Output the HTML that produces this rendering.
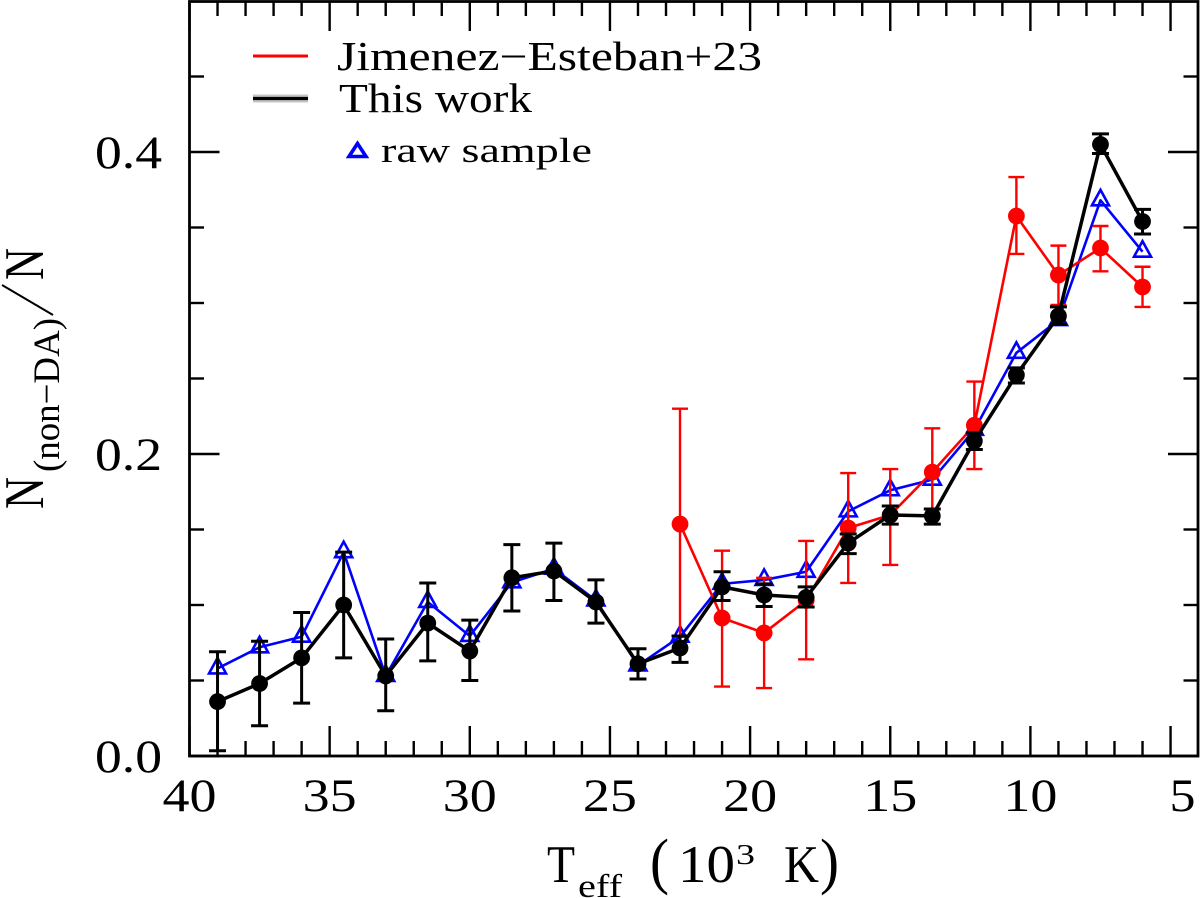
<!DOCTYPE html>
<html lang="en">
<head>
<meta charset="utf-8">
<title>Non-DA fraction versus effective temperature</title>
<style>
html,body{margin:0;padding:0;background:#fff;}
body{width:1200px;height:898px;overflow:hidden;}
svg{display:block;}
text{font-family:"Liberation Serif",serif;fill:#000;}
</style>
</head>
<body>
<svg id="chart" width="1200" height="898" viewBox="0 0 1200 898" xmlns="http://www.w3.org/2000/svg">
  <g id="ticks"></g>
  <g id="tick-labels"></g>
  <rect x="189.5" y="1.5" width="1008.5" height="754.5" fill="none" stroke="#000" stroke-width="2.8"/>
  <g id="series-blue"></g>
  <g id="series-red"></g>
  <g id="series-black"></g>

  <g>
    <line x1="253" x2="308" y1="56" y2="56" stroke="#f00" stroke-width="3"/>
    <text x="337" y="70" font-size="41" textLength="425" lengthAdjust="spacingAndGlyphs">Jimenez−Esteban+23</text>
    <line x1="253" x2="308" y1="98.5" y2="98.5" stroke="#c4c4c4" stroke-width="8"/>
    <line x1="253" x2="308" y1="98.5" y2="98.5" stroke="#000" stroke-width="3.2"/>
    <text x="339" y="112" font-size="41" textLength="193" lengthAdjust="spacingAndGlyphs">This work</text>
    <polygon points="357.5,143.5 349,156.5 366,156.5" fill="none" stroke="#00f" stroke-width="3.6"/>
    <text x="381" y="162" font-size="35" textLength="211" lengthAdjust="spacingAndGlyphs">raw sample</text>
  </g>

  <g>
    <text x="547" y="882" font-size="53" textLength="28" lengthAdjust="spacingAndGlyphs">T</text>
    <text x="578" y="897" font-size="33" textLength="44" lengthAdjust="spacingAndGlyphs">eff</text>
    <text x="650" y="882" font-size="62" textLength="19" lengthAdjust="spacingAndGlyphs">(</text>
    <text x="678" y="882" font-size="53" textLength="57" lengthAdjust="spacingAndGlyphs">10</text>
    <text x="736" y="864" font-size="29" textLength="19" lengthAdjust="spacingAndGlyphs">3</text>
    <text x="784" y="882" font-size="53" textLength="35" lengthAdjust="spacingAndGlyphs">K</text>
    <text x="820" y="882" font-size="62" textLength="19" lengthAdjust="spacingAndGlyphs">)</text>
  </g>

  <g>
    <text transform="translate(43,509) rotate(-90)" font-size="56" textLength="32" lengthAdjust="spacingAndGlyphs">N</text>
    <text transform="translate(59,472) rotate(-90)" font-size="37" textLength="154" lengthAdjust="spacingAndGlyphs">(non−DA)</text>
    <line x1="2" y1="285" x2="53" y2="315" stroke="#000" stroke-width="2"/>
    <text transform="translate(43,280) rotate(-90)" font-size="56" textLength="32" lengthAdjust="spacingAndGlyphs">N</text>
  </g>
</svg>

<script>
const temps = [39,37.5,36,34.5,33,31.5,30,28.5,27,25.5,24,22.5,21,19.5,18,16.5,15,13.5,12,10.5,9,7.5,6];
const blackValues = [0.036,0.048,0.065,0.100,0.053,0.088,0.0695,0.118,0.1225,0.102,0.061,0.0715,0.112,0.1066,0.105,0.141,0.1596,0.159,0.2086,0.2523,0.2914,0.405,0.354];
const blackUpper = [0.069,0.076,0.095,0.135,0.0775,0.1146,0.090,0.140,0.141,0.1166,0.071,0.0795,0.122,0.114,0.112,0.147,0.1656,0.1636,0.214,0.257,0.2974,0.412,0.362];
const blackLower = [0.0035,0.020,0.035,0.065,0.030,0.063,0.050,0.096,0.103,0.088,0.051,0.062,0.103,0.099,0.0987,0.134,0.1536,0.1536,0.203,0.247,0.286,0.399,0.3457];
const blueValues = [0.058,0.072,0.079,0.135,0.053,0.102,0.0795,0.115,0.124,0.103,0.060,0.079,0.114,0.1166,0.122,0.162,0.176,0.183,0.216,0.267,0.2887,0.368,0.334];
const redTemps = [22.5,21,19.5,18,16.5,15,13.5,12,10.5,9,7.5,6];
const redValues = [0.1536,0.0914,0.0815,0.103,0.151,0.1596,0.188,0.219,0.3576,0.3185,0.3364,0.3106];
const redUpper = [0.230,0.136,0.118,0.1424,0.1874,0.190,0.217,0.248,0.3834,0.338,0.351,0.324];
const redLower = [0.079,0.046,0.045,0.064,0.1146,0.1265,0.159,0.190,0.3325,0.2987,0.321,0.2974];
const xMajorTicks = [40,35,30,25,20,15,10,5];
const xMinorTicks = [39,38,37,36,34,33,32,31,29,28,27,26,24,23,22,21,19,18,17,16,14,13,12,11,9,8,7,6];
const yMajorTicks = [0,0.2,0.4];
const yMinorTicks = [0.05,0.1,0.15,0.25,0.3,0.35,0.45];
const xTickLabels = ['40','35','30','25','20','15','10','5'];
const yTickLabels = ['0.0','0.2','0.4'];

const SVG_NS = 'http://www.w3.org/2000/svg';
function xScale(t){ return 189.5 + (40 - t) * 28.03; }
function yScale(v){ return 756 - v * 1510; }

function svgEl(tag, parent, name){
  const el = document.createElementNS(SVG_NS, tag);
  
  
  parent.appendChild(el);
  return el;
}
function drawLine(parent, name, x1, y1, x2, y2, color, width){
  const el = svgEl('line', parent, name);
  el.setAttribute('x1', x1);
  el.setAttribute('y1', y1);
  el.setAttribute('x2', x2);
  el.setAttribute('y2', y2);
  el.setAttribute('stroke', color);
  el.setAttribute('stroke-width', width);
  return el;
}
function drawPolyline(parent, name, xs, ys, color, width){
  const el = svgEl('polyline', parent, name);
  el.setAttribute('points', xs.map(function(t, i){ return xScale(t) + ',' + yScale(ys[i]); }).join(' '));
  el.setAttribute('fill', 'none');
  el.setAttribute('stroke', color);
  el.setAttribute('stroke-width', width);
  el.setAttribute('stroke-linejoin', 'round');
  return el;
}
function drawErrors(parent, prefix, xs, hi, lo, color, width, capHalf){
  xs.forEach(function(t, i){
    const x = xScale(t);
    drawLine(parent, prefix + '-error-bar', x, yScale(hi[i]), x, yScale(lo[i]), color, width);
    drawLine(parent, prefix + '-error-cap-upper', x - capHalf, yScale(hi[i]), x + capHalf, yScale(hi[i]), color, width);
    drawLine(parent, prefix + '-error-cap-lower', x - capHalf, yScale(lo[i]), x + capHalf, yScale(lo[i]), color, width);
  });
}
function drawDots(parent, prefix, xs, ys, color){
  xs.forEach(function(t, i){
    const el = svgEl('circle', parent, prefix + '-point');
    el.setAttribute('cx', xScale(t));
    el.setAttribute('cy', yScale(ys[i]));
    el.setAttribute('r', 8.4);
    el.setAttribute('fill', color);
  });
}
function drawTriangles(parent, prefix, xs, ys, color){
  xs.forEach(function(t, i){
    const x = xScale(t);
    const y = yScale(ys[i]);
    const el = svgEl('polygon', parent, prefix + '-point');
    el.setAttribute('points', x + ',' + (y - 10.5) + ' ' + (x - 8.5) + ',' + (y + 5) + ' ' + (x + 8.5) + ',' + (y + 5));
    el.setAttribute('fill', 'none');
    el.setAttribute('stroke', color);
    el.setAttribute('stroke-width', 2.6);
  });
}
function drawLabel(parent, name, text, x, y, size, width){
  const el = svgEl('text', parent, name);
  el.setAttribute('x', x);
  el.setAttribute('y', y);
  el.setAttribute('font-size', size);
  el.setAttribute('textLength', width);
  el.setAttribute('lengthAdjust', 'spacingAndGlyphs');
  el.textContent = text;
  return el;
}

const tickGroup = document.getElementById('ticks');
const labelGroup = document.getElementById('tick-labels');
xMajorTicks.forEach(function(t){
  const x = xScale(t);
  drawLine(tickGroup, 'x-major-tick-bottom', x, 756, x, 726, '#000', 2.4);
  drawLine(tickGroup, 'x-major-tick-top', x, 1, x, 31, '#000', 2.4);
});
xMinorTicks.forEach(function(t){
  const x = xScale(t);
  drawLine(tickGroup, 'x-minor-tick-bottom', x, 756, x, 741, '#000', 2.4);
  drawLine(tickGroup, 'x-minor-tick-top', x, 1, x, 16, '#000', 2.4);
});
yMajorTicks.forEach(function(v){
  const y = yScale(v);
  drawLine(tickGroup, 'y-major-tick-left', 189.5, y, 219.5, y, '#000', 2.4);
  drawLine(tickGroup, 'y-major-tick-right', 1198, y, 1168, y, '#000', 2.4);
});
yMinorTicks.forEach(function(v){
  const y = yScale(v);
  drawLine(tickGroup, 'y-minor-tick-left', 189.5, y, 204, y, '#000', 2.4);
  drawLine(tickGroup, 'y-minor-tick-right', 1198, y, 1183.5, y, '#000', 2.4);
});
xTickLabels.forEach(function(text, i){
  const x = xScale(xMajorTicks[i]);
  const wide = text.length > 1;
  drawLabel(labelGroup, 'x-tick-label', text, wide ? x - 27 : x - 1, 811, 47, wide ? 54 : 26);
});
yTickLabels.forEach(function(text, i){
  drawLabel(labelGroup, 'y-tick-label', text, 95, yScale(yMajorTicks[i]) + 16, 47, 67);
});

const blueGroup = document.getElementById('series-blue');
drawPolyline(blueGroup, 'raw-sample-line', temps, blueValues, '#00f', 2.6);
drawTriangles(blueGroup, 'raw-sample', temps, blueValues, '#00f');

const redGroup = document.getElementById('series-red');
drawPolyline(redGroup, 'jimenez-esteban-line', redTemps, redValues, '#f00', 2.6);
drawErrors(redGroup, 'jimenez-esteban', redTemps, redUpper, redLower, '#f00', 2.4, 8);
drawDots(redGroup, 'jimenez-esteban', redTemps, redValues, '#f00');

const blackGroup = document.getElementById('series-black');
drawPolyline(blackGroup, 'this-work-line', temps, blackValues, '#000', 3.5);
drawErrors(blackGroup, 'this-work', temps, blackUpper, blackLower, '#000', 3, 8.5);
drawDots(blackGroup, 'this-work', temps, blackValues, '#000');
</script>
</body>
</html>
